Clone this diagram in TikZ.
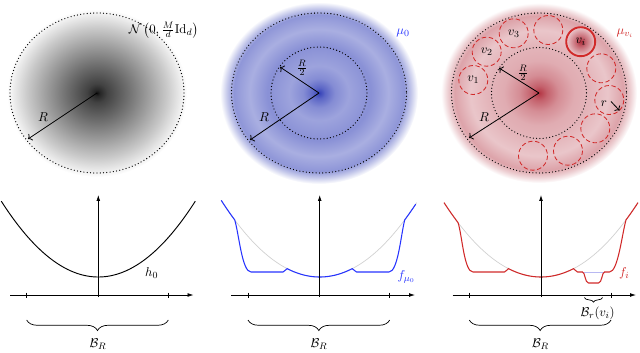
\documentclass[tikz,border=0pt]{standalone}
\usepackage{amsmath}
\usetikzlibrary{arrows.meta,decorations.pathreplacing}
\definecolor{bbase}{rgb}{0.20,0.25,0.72}
\definecolor{rbase}{rgb}{0.68,0.14,0.20}
\definecolor{bline}{rgb}{0.15,0.2,1}
\definecolor{rline}{rgb}{0.82,0.16,0.16}
\definecolor{lav}{rgb}{0.72,0.72,0.95}
\pgfdeclareradialshading{gshade}{\pgfpointorigin}{color(0bp)=(black!95); color(0.8bp)=(black!85); color(2.8bp)=(black!74); color(8.3bp)=(black!57); color(13.9bp)=(black!39); color(19.4bp)=(black!21); color(23bp)=(black!8); color(25bp)=(white); color(50bp)=(white)}
\pgfdeclareradialshading{bshade}{\pgfpointorigin}{color(0bp)=(bbase!100); color(1.5bp)=(bbase!80); color(4bp)=(bbase!60); color(7.5bp)=(bbase!48); color(13bp)=(bbase!58); color(17.5bp)=(bbase!42); color(21.5bp)=(bbase!55); color(23.3bp)=(bbase!28); color(25bp)=(white); color(50bp)=(white)}
\pgfdeclareradialshading{rshade}{\pgfpointorigin}{color(0bp)=(rbase!92); color(2bp)=(rbase!72); color(5bp)=(rbase!52); color(9bp)=(rbase!38); color(13bp)=(rbase!34); color(17.5bp)=(rbase!26); color(21.5bp)=(rbase!42); color(23.3bp)=(rbase!22); color(25bp)=(white); color(50bp)=(white)}
\pgfdeclareradialshading{vshade}{\pgfpointorigin}{color(0bp)=(rbase!95); color(10bp)=(rbase!65); color(20bp)=(rbase!38); color(25bp)=(rbase!25); color(50bp)=(rbase!25)}
\begin{document}
\begin{tikzpicture}[x=0.03cm,y=-0.03cm,
  every node/.style={font=\fontsize{11}{13}\selectfont},
  dotc/.style={line width=1.1pt, dash pattern=on 0pt off 2.8pt, line cap=round},
  radarr/.style={line width=0.7pt,->},
  axisarr/.style={line width=0.6pt,-{Latex[length=5pt,width=3.2pt]}},
  tickln/.style={line width=0.5pt},
  ghost/.style={black!18, line width=0.6pt},
  bcurve/.style={bline,line width=0.9pt},
  rcurve/.style={rline,line width=0.9pt},
  dcirc/.style={rline,line width=0.7pt,dash pattern=on 3.8pt off 2.2pt},
  bigbrace/.style={decorate,decoration={brace,mirror,amplitude=9pt},line width=0.6pt},
  smallbrace/.style={decorate,decoration={brace,mirror,amplitude=4pt},line width=0.6pt}
]
\useasboundingbox (0,0) rectangle (640,352);

% ---------- panel 1 (top) ----------
\coordinate (c1) at (97,93);
\shade[shading=gshade] (c1) ellipse [x radius=90, y radius=84];
\draw[dotc] (c1) ellipse [x radius=87, y radius=80];
\coordinate (e1) at (28,139);
\draw[radarr] (c1) -- (e1);
\node (R1) at (43,117) {$R$};
\node (N1) at (163.5,30) {$\mathcal{N}\left(0,\frac{M}{d}\mathrm{Id}_d\right)$};

% ---------- panel 2 (top) ----------
\coordinate (c2) at (319,93);
\shade[shading=bshade] (c2) ellipse [x radius=99, y radius=91];
\draw[dotc] (c2) ellipse [x radius=87.5, y radius=80];
\draw[dotc] (c2) ellipse [x radius=48, y radius=46];
\coordinate (e2) at (250,140);
\coordinate (h2) at (280,67);
\draw[radarr] (c2) -- (e2);
\draw[radarr] (c2) -- (h2);
\node (R2) at (264,117) {$R$};
\node (Rh2) at (302,68) {$\frac{R}{2}$};
\node[text=bline] (mu0) at (403,33) {$\mu_0$};

% ---------- panel 3 (top) ----------
\coordinate (c3) at (539,93);
\shade[shading=rshade] (c3) ellipse [x radius=98, y radius=90];
\draw[dotc] (c3) ellipse [x radius=87.5, y radius=80];
\draw[dotc] (c3) ellipse [x radius=47.5, y radius=45.5];
\coordinate (s1) at (473.3,80);
\coordinate (s2) at (486.7,51.7);
\coordinate (s3) at (513.7,33.3);
\coordinate (s4) at (548.3,30);
\coordinate (si) at (580.7,41.7);
\coordinate (s6) at (601.3,68.3);
\coordinate (s7) at (609.3,100);
\coordinate (s8) at (595.3,128.3);
\coordinate (s9) at (568,150.7);
\coordinate (s10) at (533,155.7);
\foreach \p in {s1,s2,s3,s4,s6,s7,s8,s9,s10}
  \draw[dcirc] (\p) circle (14.5);
\shade[shading=vshade] (si) circle (14.5);
\draw[rline,line width=1.6pt] (si) circle (14.5);
\node (v1) at (s1) {$v_1$};
\node (v2) at (s2) {$v_2$};
\node (v3) at (s3) {$v_3$};
\node (vi) at (si) {$v_i$};
\coordinate (rs) at (611,101.5);
\coordinate (re) at (619.5,110.5);
\draw[line width=0.7pt,->] (rs) -- (re);
\node (rl) at (604,104) {$r$};
\coordinate (e3) at (469,138);
\coordinate (h3) at (499,68);
\draw[radarr] (c3) -- (e3);
\draw[radarr] (c3) -- (h3);
\node (R3) at (484,117) {$R$};
\node (Rh3) at (523,73) {$\frac{R}{2}$};
\node[text=rline] (muvi) at (625,33) {$\mu_{v_i}$};

% ---------- panel 1 (bottom) ----------
\coordinate (xa1) at (10,295);
\coordinate (xb1) at (193.5,295);
\coordinate (ya1) at (98.3,297);
\coordinate (yb1) at (98.3,195);
\draw[line width=0.8pt] plot[domain=-97:97,samples=80] ({98.3+\x},{277-0.00805*(\x)*(\x)});
\draw[axisarr] (xa1) -- (xb1);
\draw[axisarr] (ya1) -- (yb1);
\draw[tickln] (26.7,292.5) -- (26.7,297.5);
\draw[tickln] (168.3,292.5) -- (168.3,297.5);
\node (h0) at (151.7,273.3) {$h_0$};
\coordinate (bl1) at (26.7,320);
\coordinate (br1) at (168.3,320);
\draw[bigbrace] (bl1) -- (br1);
\node (BR1) at (98,344) {$\mathcal{B}_R$};

% ---------- panel 2 (bottom) ----------
\coordinate (xa2) at (231.3,295);
\coordinate (xb2) at (415,295);
\coordinate (ya2) at (319.7,297);
\coordinate (yb2) at (319.7,195);
\draw[ghost] plot[domain=-98:97,samples=80] ({319.7+\x},{277-0.0079*(\x)*(\x)});
\draw[bcurve] plot[domain=-98.5:-85,samples=8] ({319.7+\x},{277-0.0079*(\x)*(\x)})
  .. controls (239,234) and (242,272) .. (251,272) -- (283,272)
  .. controls (285,272) and (285.5,268.5) .. (287.2,268.7)
  -- plot[domain=-32.5:32.5,samples=30] ({319.7+\x},{277-0.0079*(\x)*(\x)})
  .. controls (354,268.5) and (354.5,272) .. (356.5,272) -- (389,272)
  .. controls (398,272) and (401,234) .. (404.7,220)
  -- plot[domain=85:96,samples=8] ({319.7+\x},{277-0.0079*(\x)*(\x)});
\draw[axisarr] (xa2) -- (xb2);
\draw[axisarr] (ya2) -- (yb2);
\draw[tickln] (248,292.5) -- (248,297.5);
\draw[tickln] (389.7,292.5) -- (389.7,297.5);
\node[text=bline] (fmu) at (406.3,277) {$f_{\mu_0}$};
\coordinate (bl2) at (248,320);
\coordinate (br2) at (389.7,320);
\draw[bigbrace] (bl2) -- (br2);
\node (BR2) at (319,344) {$\mathcal{B}_R$};

% ---------- panel 3 (bottom) ----------
\coordinate (xa3) at (452.7,295);
\coordinate (xb3) at (636,295);
\coordinate (ya3) at (541,297);
\coordinate (yb3) at (541,195);
\draw[ghost] plot[domain=-97:97,samples=80] ({541+\x},{277-0.0079*(\x)*(\x)});
\coordinate (la) at (582.5,272);
\coordinate (lb) at (604.5,272);
\draw[lav,line width=0.6pt] (la) -- (lb);
\draw[rcurve] plot[domain=-97:-83,samples=8] ({541+\x},{277-0.0079*(\x)*(\x)})
  .. controls (462,234) and (464,272) .. (473,272) -- (504.5,272)
  .. controls (506.5,272) and (507,268.5) .. (508.5,268.7)
  -- plot[domain=-32.5:32.5,samples=30] ({541+\x},{277-0.0079*(\x)*(\x)})
  .. controls (575,268.5) and (575.5,272) .. (577.5,272) -- (582.5,272)
  .. controls (585,272) and (585,283) .. (588.5,283) -- (598.5,283)
  .. controls (602,283) and (602,272) .. (604.5,272) -- (609.5,272)
  .. controls (618,272) and (622,234) .. (626,220)
  -- plot[domain=85:97,samples=8] ({541+\x},{277-0.0079*(\x)*(\x)});
\draw[axisarr] (xa3) -- (xb3);
\draw[axisarr] (ya3) -- (yb3);
\draw[tickln] (469.3,292.5) -- (469.3,297.5);
\draw[tickln] (611,292.5) -- (611,297.5);
\node[text=rline] (fi) at (624.3,273.3) {$f_i$};
\coordinate (sbl) at (584.3,297.5);
\coordinate (sbr) at (602.7,297.5);
\draw[smallbrace] (sbl) -- (sbr);
\node (Brv) at (597.7,313.3) {$\mathcal{B}_r(v_i)$};
\coordinate (bl3) at (469.3,320);
\coordinate (br3) at (611,320);
\draw[bigbrace] (bl3) -- (br3);
\node (BR3) at (540.5,344) {$\mathcal{B}_R$};
\end{tikzpicture}
\end{document}
